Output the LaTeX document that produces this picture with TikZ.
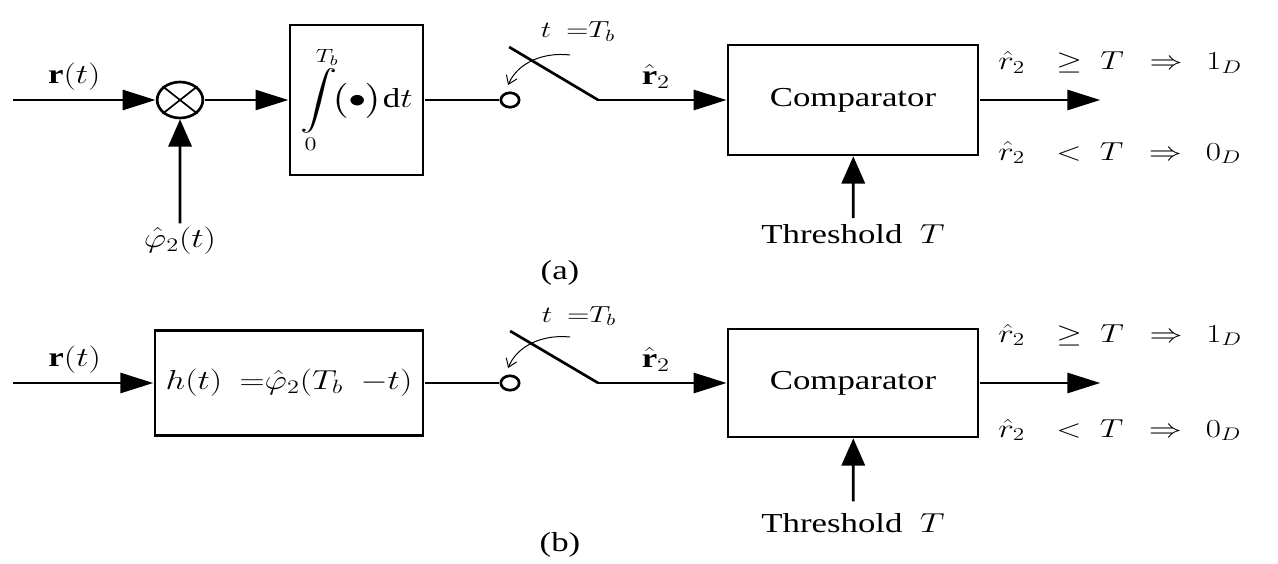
\RequirePackage{fix-cm}
\documentclass[tikz,border=0pt]{standalone}
\usepackage{amsmath}
\usepackage{fontspec}
\setmainfont{Liberation Serif}
\usetikzlibrary{arrows.meta}

\tikzset{
  wire/.style={line width=1.9pt},
  sig/.style={line width=1.9pt, -{Triangle[length=0.82cm,width=0.5cm]}},
  sigup/.style={line width=1.9pt, -{Triangle[length=0.68cm,width=0.58cm]}},
  blk/.style={draw, rectangle, line width=1.9pt},
  sw/.style={draw, circle, line width=1.9pt, fill=white, minimum size=0.36cm, inner sep=0pt},
  cue/.style={line width=0.7pt, -{Straight Barb[length=2mm,width=2.8mm]}},
  small/.style={font=\fontsize{16.5}{20}\selectfont},
  rule/.style={anchor=base west, font=\fontsize{18.5}{22}\selectfont},
}

\begin{document}
\begin{tikzpicture}[x=0.7874cm, y=1cm, xscale=1.27, transform shape,
                    inner sep=2pt, font=\fontsize{19.5}{23}\selectfont]
  \useasboundingbox (0,0) rectangle (31.95,14.075);

  % (a) correlator receiver
  \coordinate (ina) at (0.325,11.575);
  \node[draw, circle, line width=1.9pt, minimum size=0.9cm, inner sep=0pt] (mul) at (4.5,11.575) {};
  \draw[line width=1.2pt] (mul.45) -- (mul.225) (mul.135) -- (mul.315);
  \node[blk, minimum width=2.62cm, minimum height=3.75cm] (intg) at (8.9125,11.575)
       {$\displaystyle\int\limits_0^{T_b}\!\bigl(\bullet\bigr)\mathrm{d}t$};
  \node[anchor=base] (phia) at (4.5,7.9) {$\hat{\varphi}_2(t)$};
  \node[sw] (swa) at (12.75,11.575) {};
  \coordinate (qa) at (12.725,12.9);
  \coordinate (pa) at (14.95,11.575);
  \node[small, anchor=base] (swla) at (14.45,13.125) {$t\enspace{=}T_b$};
  \coordinate (cva) at (14.25,12.7);
  \coordinate (cvb) at (12.7,11.95);
  \node[blk, minimum width=4.92cm, minimum height=2.75cm] (cmpa) at (21.325,11.575) {Comparator};
  \coordinate (outa) at (27.5,11.575);
  \node[anchor=base, inner ysep=4pt] (thra) at (21.325,8.0) {Threshold\enspace$T$};
  \node[rule] (gea) at (24.86,12.325) {$\hat{r}_2\enspace\,\geq\;T\enspace\Rightarrow\;\, 1_D$};
  \node[rule] (lta) at (24.86,10.075) {$\hat{r}_2\enspace\,<\;T\enspace\Rightarrow\;\, 0_D$};
  \node[anchor=base] (capa) at (14.0,7.1) {(a)};

  \draw[sig] (ina) -- node[above=4pt, pos=0.43] (rta) {$\mathbf{r}(t)$} (mul);
  \draw[sig] (mul) -- (intg);
  \draw[sigup] (phia) -- (mul);
  \draw[wire] (intg) -- (swa);
  \draw[wire] (qa) -- (pa);
  \draw[sig] (pa) -- node[above=5pt, pos=0.45] (r2a) {$\hat{\mathbf{r}}_2$} (cmpa);
  \draw[cue] (cva) to[bend right=40] (cvb);
  \draw[sig] (cmpa) -- (outa);
  \draw[sigup] (thra) -- (cmpa);

  % (b) matched filter receiver
  \coordinate (inb) at (0.325,4.5);
  \node[blk, minimum width=5.28cm, minimum height=2.625cm] (hb) at (7.225,4.5)
       {$h(t)\enspace{=}\hat{\varphi}_2(T_b\enspace{-}t)$};
  \node[sw] (swb) at (12.75,4.5) {};
  \coordinate (qb) at (12.75,5.8);
  \coordinate (pb) at (14.95,4.5);
  \node[small, anchor=base] (swlb) at (14.475,6.025) {$t\enspace{=}T_b$};
  \coordinate (cvc) at (14.25,5.65);
  \coordinate (cvd) at (12.7,4.875);
  \node[blk, minimum width=4.92cm, minimum height=2.7cm] (cmpb) at (21.325,4.5) {Comparator};
  \coordinate (outb) at (27.5,4.5);
  \node[anchor=base, inner ysep=8pt] (thrb) at (21.325,0.775) {Threshold\enspace$T$};
  \node[rule] (geb) at (24.86,5.525) {$\hat{r}_2\enspace\,\geq\;T\enspace\Rightarrow\;\, 1_D$};
  \node[rule] (ltb) at (24.86,3.15) {$\hat{r}_2\enspace\,<\;T\enspace\Rightarrow\;\, 0_D$};
  \node[anchor=base] (capb) at (14.0,0.3) {(b)};

  \draw[sig] (inb) -- node[above=4pt, pos=0.44] (rtb) {$\mathbf{r}(t)$} (hb);
  \draw[wire] (hb) -- (swb);
  \draw[wire] (qb) -- (pb);
  \draw[sig] (pb) -- node[above=5pt, pos=0.45] (r2b) {$\hat{\mathbf{r}}_2$} (cmpb);
  \draw[cue] (cvc) to[bend right=40] (cvd);
  \draw[sig] (cmpb) -- (outb);
  \draw[sigup] (thrb) -- (cmpb);
\end{tikzpicture}
\end{document}
